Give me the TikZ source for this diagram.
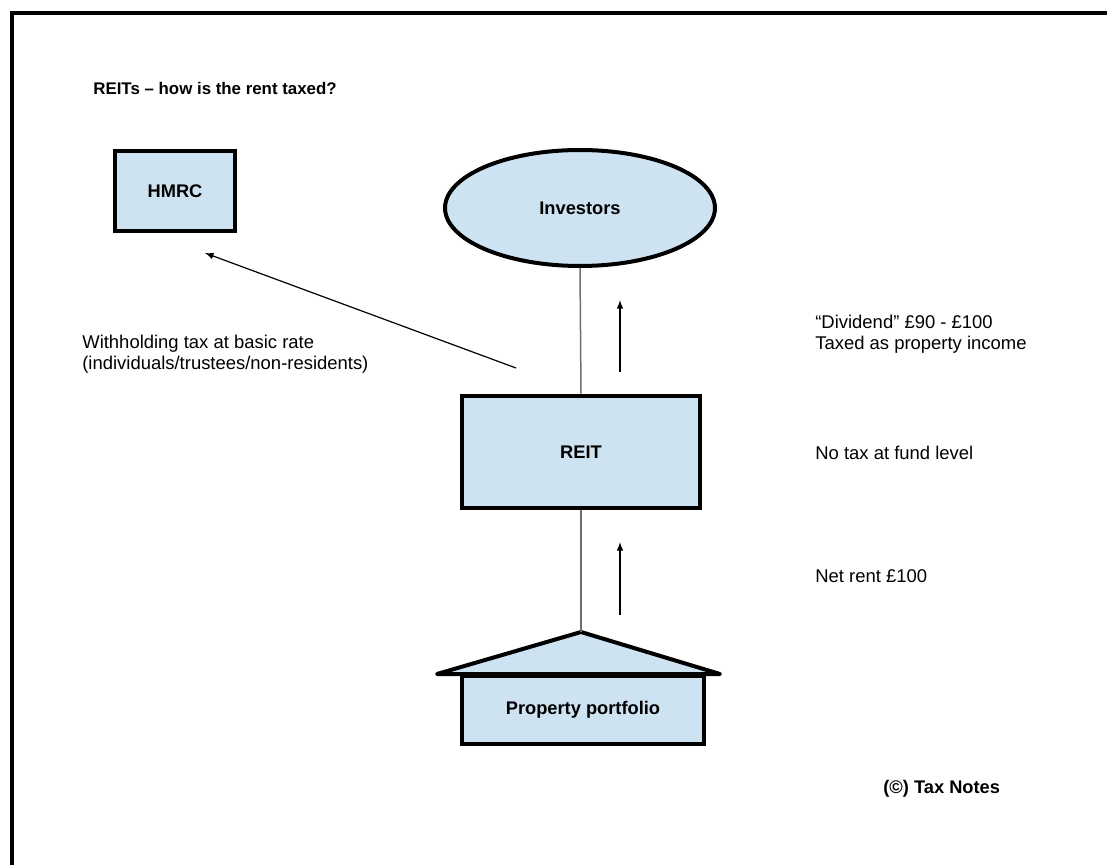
\documentclass[tikz,border=0pt]{standalone}
\usepackage{fontspec}
\setmainfont{Liberation Sans}
\usetikzlibrary{positioning, arrows, shapes.geometric}
\definecolor{boxblue}{RGB}{206,227,242}
\definecolor{linegray}{RGB}{110,110,110}

\begin{document}
\begin{tikzpicture}[x=0.02cm, y=-0.02cm,
    every node/.style={font=\fontsize{10.5}{11.9}\selectfont},
    entity/.style={draw, line width=0.08cm, fill=boxblue, font=\fontsize{10.4}{11.9}\selectfont\bfseries},
    note/.style={anchor=west, align=left, inner sep=0pt},
    link/.style={draw=linegray, line width=0.03cm},
    flow/.style={->, >=latex, line width=0.024cm}]
    \useasboundingbox (0,0) rectangle (1107,865);
    % frame
    \draw [line width=0.075cm] (12,865) -- (12,13) -- (1107,13);
    \node (title) [note, font=\fontsize{9.6}{11}\selectfont\bfseries] at (93,88) {REITs -- how is the rent taxed?};
    % boxes
    \node (hmrc) [entity, rectangle, minimum width=2.4cm, minimum height=1.6cm] at (175,191) {HMRC};
    \node (investors) [entity, ellipse, minimum width=5.4cm, minimum height=2.32cm] at (580,208) {Investors};
    \node (reit) [entity, rectangle, minimum width=4.78cm, minimum height=2.26cm] at (581,452) {REIT};
    \coordinate (apex) at (581,632);
    \coordinate (eaveL) at (437,674);
    \coordinate (eaveR) at (720,674);
    \draw [fill=boxblue, line width=0.08cm, line join=round] (eaveL) -- (apex) -- (eaveR) -- cycle;
    \node (portfolio) [entity, rectangle, minimum width=4.84cm, minimum height=1.36cm] at (583,710) {Property portfolio};
    % connectors
    \draw [link] (investors.south) -- (reit.north);
    \draw [link] (reit.south) -- (apex);
    \coordinate (taxfrom) at (516,368);
    \coordinate (taxto) at (205,253);
    \draw [flow] (taxfrom) -- (taxto);
    \coordinate (divfrom) at (620,372);
    \coordinate (divto) at (620,300);
    \draw [flow] (divfrom) -- (divto);
    \coordinate (rentfrom) at (620,615);
    \coordinate (rentto) at (620,542);
    \draw [flow] (rentfrom) -- (rentto);
    % notes
    \node (withholding) [note] at (82,354) {Withholding tax at basic rate\\(individuals/trustees/non-residents)};
    \node (dividend) [note] at (815,334) {“Dividend” £90 - £100\\Taxed as property income};
    \node (fund) [note] at (815,453) {No tax at fund level};
    \node (rent) [note] at (815,576) {Net rent £100};
    \node (source) [note, font=\fontsize{10.4}{11.9}\selectfont\bfseries] at (883,789) {(\textcopyright) Tax Notes};
\end{tikzpicture}
\end{document}
